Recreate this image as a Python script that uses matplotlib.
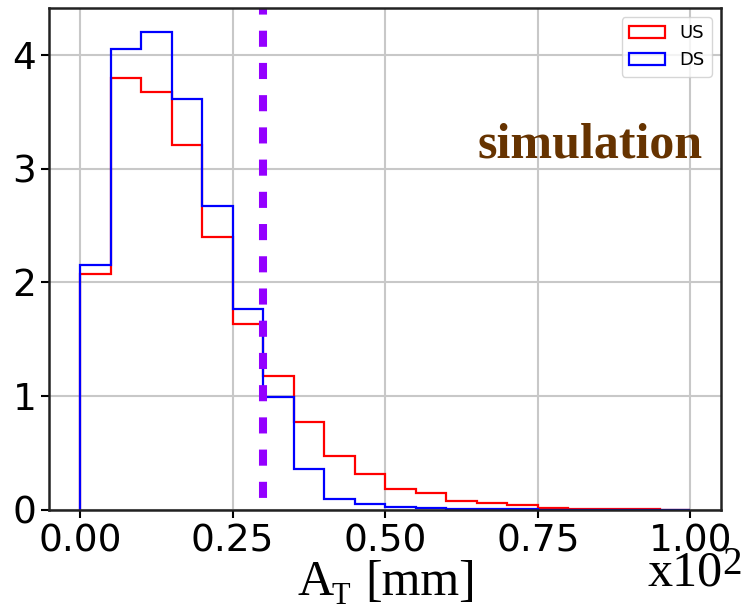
import numpy as np
import matplotlib
matplotlib.use('Agg')
import matplotlib.pyplot as plt

# bin edges of A_T (x10^2 mm)
bin_edges = np.linspace(0.0, 1.0, 21)

us_vals = [2.07, 3.80, 3.67, 3.21, 2.40, 1.63, 1.18, 0.77, 0.47, 0.32,
           0.18, 0.15, 0.08, 0.06, 0.04, 0.015, 0.01, 0.007, 0.005, 0.003]
ds_vals = [2.15, 4.05, 4.20, 3.61, 2.67, 1.77, 0.99, 0.36, 0.10, 0.05,
           0.03, 0.018, 0.012, 0.008, 0.006, 0.003, 0.002, 0.001, 0.001, 0.001]
cut = 0.30

centers = 0.5 * (bin_edges[:-1] + bin_edges[1:])

fig = plt.figure(figsize=(7.42, 6.12), dpi=100)
ax = fig.add_axes([0.0667, 0.1667, 0.905, 0.820])

ax.hist(centers, bins=bin_edges, weights=us_vals, histtype='step',
        color='red', lw=1.6, label='US')
ax.hist(centers, bins=bin_edges, weights=ds_vals, histtype='step',
        color='blue', lw=1.6, label='DS')
ax.axvline(cut, color='#9400FF', lw=5.8, ls=(2.5, (2, 2)))

ax.grid(True, color='#c8c8c8', lw=1.5)
ax.set_axisbelow(True)
ax.set_xticks([0.0, 0.25, 0.5, 0.75, 1.0])
ax.set_yticks([0, 1, 2, 3, 4])
ax.tick_params(labelsize=27, length=6, width=1.5)
for s in ax.spines.values():
    s.set_linewidth(1.8)
    s.set_color('#222222')

ax.text(0.973, 0.703, 'simulation', transform=ax.transAxes, ha='right',
        va='baseline', family='Liberation Serif', fontweight='bold',
        fontsize=36, color='#663300')

ax.legend(loc='upper right', fontsize=13)

# x label "A_T [mm]" and the x10^2 scale note, in serif
serif = 'Liberation Serif'
fig.text(0.4003, 0.0278, 'A', family=serif, fontsize=36, va='baseline')
fig.text(0.4474, 0.001, 'T', family=serif, fontsize=22, va='bottom')
fig.text(0.4919, 0.0278, '[mm]', family=serif, fontsize=36, va='baseline')
fig.text(0.873, 0.044, 'x10', family=serif, fontsize=36, va='baseline')
fig.text(0.973, 0.062, '2', family=serif, fontsize=28, va='baseline')

fig.savefig('out.png', dpi=100)
